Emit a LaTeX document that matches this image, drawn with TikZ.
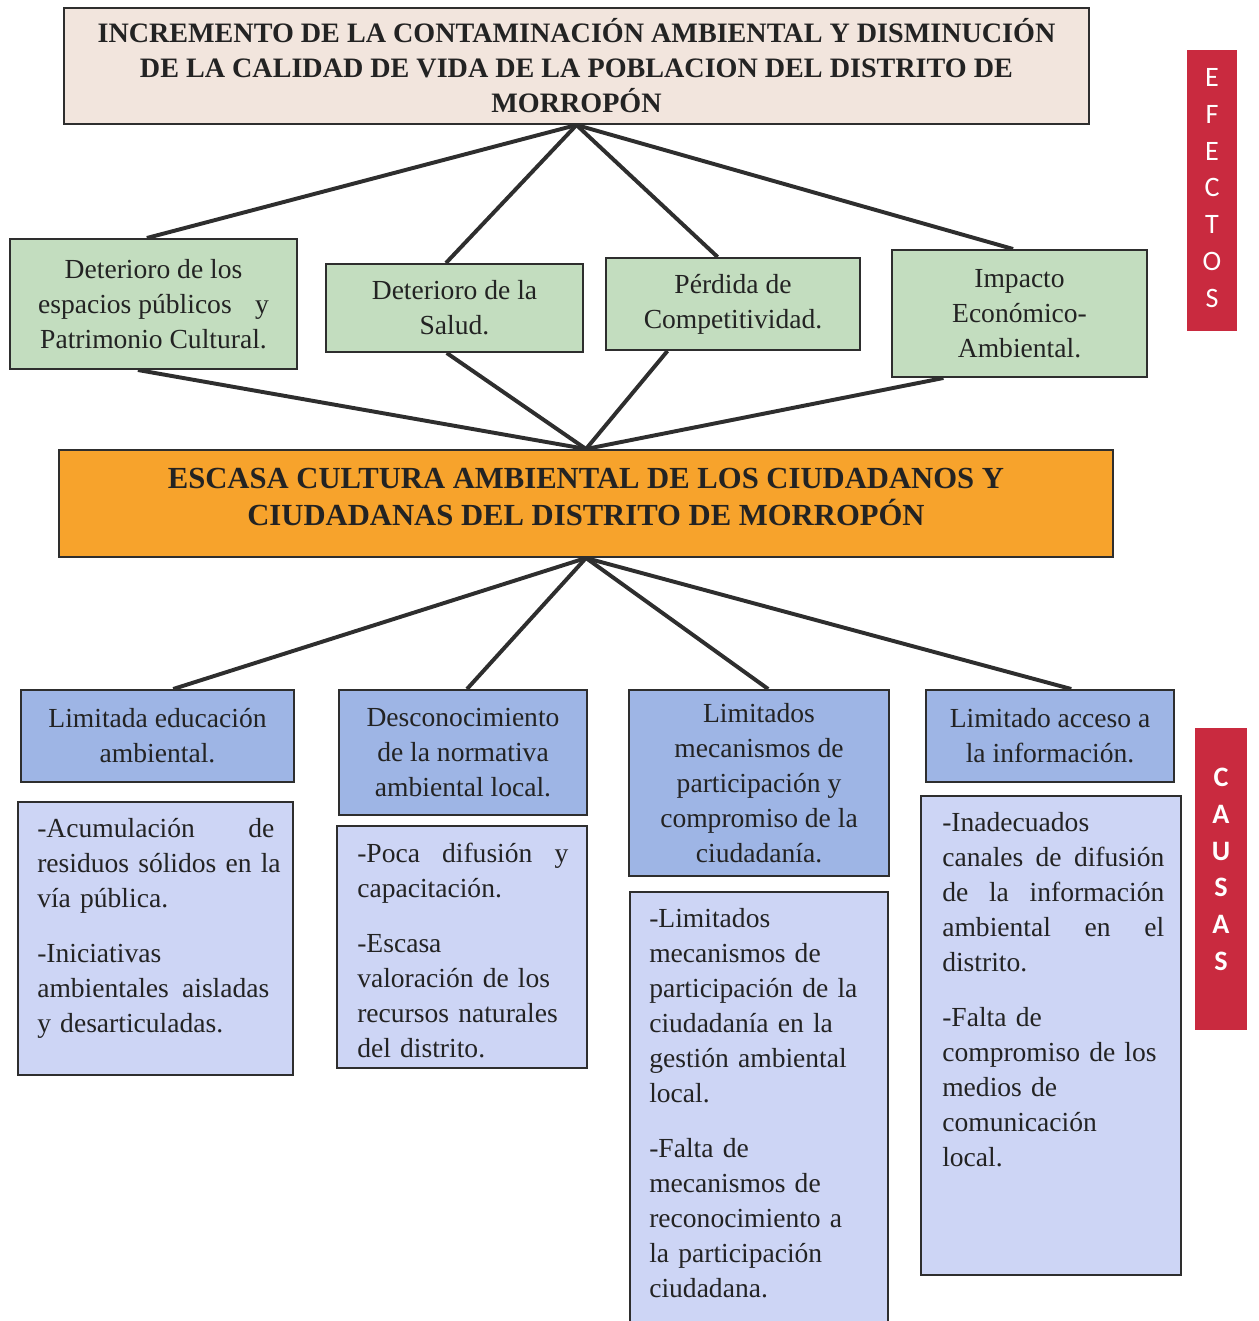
\documentclass[tikz,border=0pt]{standalone}
\usepackage{fontspec}
\setmainfont{Liberation Serif}
\newfontfamily\calib{Carlito}
\usetikzlibrary{calc}
\definecolor{txt}{HTML}{232323}
\definecolor{edge}{HTML}{2E2E2E}
\definecolor{titlefill}{HTML}{F2E5DD}
\definecolor{greenfill}{HTML}{C3DDBF}
\definecolor{orangefill}{HTML}{F7A32C}
\definecolor{bluehead}{HTML}{9EB5E5}
\definecolor{bluedet}{HTML}{CDD5F5}
\definecolor{barred}{HTML}{C92A3F}
\newcommand\ntxt{\fontsize{19.6}{24.9}\selectfont}
\newcommand\btxt{\fontsize{20}{24.9}\selectfont\bfseries}
\newcommand\otxt{\fontsize{21.8}{27}\selectfont\bfseries}
\newcommand\jline[2]{\leavevmode\hbox to #1{#2}}
\begin{document}
\begin{tikzpicture}[x=0.025cm,y=-0.025cm,
  box/.style={draw=edge, line width=1.4pt, inner sep=0pt, text=txt, align=center, font=\ntxt},
  titlebox/.style={box, fill=titlefill, font=\btxt},
  effbox/.style={box, fill=greenfill},
  corebox/.style={box, fill=orangefill, font=\otxt},
  headbox/.style={box, fill=bluehead},
  detbox/.style={box, fill=bluedet},
  dettext/.style={anchor=north west, inner sep=0pt, text=txt, align=left, font=\ntxt, text width=7cm},
  bar/.style={fill=barred, inner sep=0pt},
  link/.style={draw=edge, line width=2.8pt}
]
\useasboundingbox (0,0) rectangle (1258,1321);

% top effect
\node[titlebox, minimum width=25.625cm, minimum height=2.9cm] (top) at (576.5,66)
 {INCREMENTO DE LA CONTAMINACIÓN AMBIENTAL Y DISMINUCIÓN\\DE LA CALIDAD DE VIDA DE LA POBLACION DEL DISTRITO DE\\MORROPÓN};

% effects
\node[effbox, minimum width=7.175cm, minimum height=3.25cm] (g1) at (153.5,304)
 {Deterioro de los\\espacios públicos\hspace{0.6em} y\\Patrimonio Cultural.};
\node[effbox, minimum width=6.425cm, minimum height=2.2cm] (g2) at (454.5,308)
 {Deterioro de la\\Salud.};
\node[effbox, minimum width=6.35cm, minimum height=2.3cm] (g3) at (733,304)
 {Pérdida de\\Competitividad.};
\node[effbox, minimum width=6.375cm, minimum height=3.175cm] (g4) at (1019.5,313.5)
 {Impacto\\Económico-\\Ambiental.};

% core problem
\node[corebox, minimum width=26.35cm, minimum height=2.675cm] (core) at (586,503.5) {};
\node[inner sep=0pt, text=txt, align=center, font=\otxt] (coretext) at (586,497)
 {ESCASA CULTURA AMBIENTAL DE LOS CIUDADANOS Y\\CIUDADANAS DEL DISTRITO DE MORROPÓN};

% cause headers
\node[headbox, minimum width=6.825cm, minimum height=2.3cm] (b1) at (157.5,736)
 {Limitada educación\\ambiental.};
\node[headbox, minimum width=6.2cm, minimum height=3.125cm] (b2) at (463,752.5)
 {Desconocimiento\\de la normativa\\ambiental local.};
\node[headbox, minimum width=6.5cm, minimum height=4.65cm] (b3) at (759,783)
 {Limitados\\mecanismos de\\participación y\\compromiso de la\\ciudadanía.};
\node[headbox, minimum width=6.2cm, minimum height=2.3cm] (b4) at (1050,736)
 {Limitado acceso a\\la información.};

% cause details
\node[detbox, minimum width=6.875cm, minimum height=6.825cm] (d1) at (155.5,938.5) {};
\node[dettext] (t1) at (37,818)
 {\jline{5.925cm}{-Acumulación\hfill de}\\residuos sólidos en la\\vía pública.\\[0.5cm]-Iniciativas\\\jline{5.8cm}{ambientales\hfill aisladas}\\y desarticuladas.};
\node[detbox, minimum width=6.25cm, minimum height=6.05cm] (d2) at (462,947) {};
\node[dettext] (t2) at (357,843)
 {\jline{5.275cm}{-Poca\hfill difusión\hfill y}\\capacitación.\\[0.5cm]-Escasa\\valoración de los\\recursos naturales\\del distrito.};
\node[detbox, minimum width=6.45cm, minimum height=11.2cm] (d3) at (759,1116) {};
\node[dettext] (t3) at (649,908)
 {-Limitados\\mecanismos de\\participación de la\\ciudadanía en la\\gestión ambiental\\local.\\[0.5cm]-Falta de\\mecanismos de\\reconocimiento a\\la participación\\ciudadana.};
\node[detbox, minimum width=6.5cm, minimum height=11.975cm] (d4) at (1051,1035.5) {};
\node[dettext] (t4) at (942,812)
 {-Inadecuados\\\jline{5.55cm}{canales\hfill de\hfill difusión}\\\jline{5.55cm}{de\hfill la\hfill información}\\\jline{5.55cm}{ambiental\hfill en\hfill el}\\distrito.\\[0.5cm]-Falta de\\compromiso de los\\medios de\\comunicación\\local.};

% side bars
\node[bar, minimum width=1.25cm, minimum height=7.025cm] (efbar) at (1212,190.5) {};
\node[inner sep=0pt, text=white, align=center, font={\calib\fontsize{20}{26.1}\selectfont}] (eftext) at (1212,188)
 {E\\F\\E\\C\\T\\O\\S};
\node[bar, minimum width=1.3cm, minimum height=7.55cm] (cabar) at (1221,879) {};
\node[inner sep=0pt, text=white, align=center, font={\calib\bfseries\fontsize{20}{26.1}\selectfont}] (catext) at (1221,869.5)
 {C\\A\\U\\S\\A\\S};

% connectors: top -> effects
\draw[link] (top.south) -- ($(g1.north west)!0.477!(g1.north east)$);
\draw[link] (top.south) -- ($(g2.north west)!0.467!(g2.north east)$);
\draw[link] (top.south) -- ($(g3.north west)!0.44!(g3.north east)$);
\draw[link] (top.south) -- ($(g4.north west)!0.475!(g4.north east)$);
% effects -> core
\draw[link] ($(g1.south west)!0.446!(g1.south east)$) -- (core.north);
\draw[link] ($(g2.south west)!0.47!(g2.south east)$) -- (core.north);
\draw[link] ($(g3.south west)!0.244!(g3.south east)$) -- (core.north);
\draw[link] ($(g4.south west)!0.204!(g4.south east)$) -- (core.north);
% core -> causes
\draw[link] (core.south) -- ($(b1.north west)!0.557!(b1.north east)$);
\draw[link] (core.south) -- ($(b2.north west)!0.516!(b2.north east)$);
\draw[link] (core.south) -- ($(b3.north west)!0.535!(b3.north east)$);
\draw[link] (core.south) -- ($(b4.north west)!0.585!(b4.north east)$);
\end{tikzpicture}
\end{document}
